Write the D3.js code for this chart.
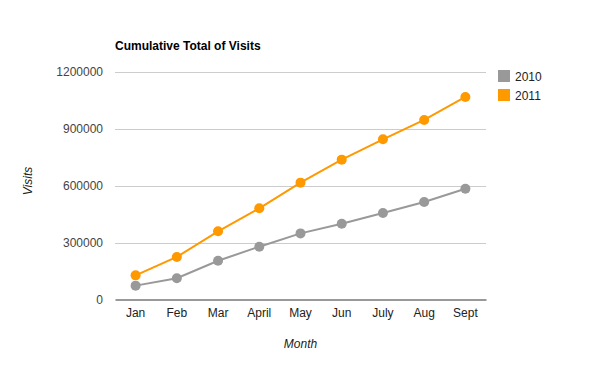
<!DOCTYPE html>
<html>
<head>
<meta charset="utf-8">
<script src="https://cdn.jsdelivr.net/npm/d3@7"></script>
<style>
  body { margin: 0; background: #fff; }
  svg { font-family: "Liberation Sans", Arial, sans-serif; }
</style>
</head>
<body>
<div class="chart"></div>
<script>
var months = ['Jan', 'Feb', 'Mar', 'April', 'May', 'Jun', 'July', 'Aug', 'Sept'];
var visits2010 = [73000, 112000, 204000, 278000, 348000, 399000, 455000, 513000, 583000];
var visits2011 = [127000, 224000, 359000, 480000, 615000, 736000, 843000, 945000, 1066000];
var yTicks = [0, 300000, 600000, 900000, 1200000];

var seriesList = [
  {name: '2010', values: visits2010, color: '#999999'},
  {name: '2011', values: visits2011, color: '#ff9900'}
];

var chartOptions = {
  width: 600,
  height: 371,
  left: 115,
  right: 486,
  top: 71.5,
  bottom: 299.5
}

var svg = d3.select('.chart').append('svg')
            .attr('width', chartOptions.width)
            .attr('height', chartOptions.height);

var x = d3.scaleBand()
          .domain(months)
          .range([chartOptions.left, chartOptions.right]);

var y = d3.scaleLinear()
          .domain([0, 1200000])
          .range([chartOptions.bottom, chartOptions.top]);

//gridlines
svg.append('g')
   .selectAll('line')
   .data(yTicks.slice(1))
   .enter()
   .append('line')
     .attr('x1', chartOptions.left)
     .attr('x2', chartOptions.right)
     .attr('y1', function(d){ return Math.round(y(d)) + 0.5; })
     .attr('y2', function(d){ return Math.round(y(d)) + 0.5; })
     .attr('stroke', '#cccccc');

//y tick labels
svg.append('g')
   .selectAll('text')
   .data(yTicks)
   .enter()
   .append('text')
     .attr('x', chartOptions.left - 12)
     .attr('y', function(d){ return y(d) + 4; })
     .attr('text-anchor', 'end')
     .attr('font-size', 12)
     .attr('fill', '#444')
     .text(function(d){ return d; });

//x axis
var xAxis = svg.append('g')
   .attr('transform', 'translate(0,' + chartOptions.bottom + ')')
   .call(d3.axisBottom(x).tickSize(0).tickPadding(9));
xAxis.select('.domain').attr('stroke', '#333').attr('stroke-width', 1);
xAxis.selectAll('text')
     .attr('font-size', 12)
     .attr('fill', '#222')
     .attr('font-family', '"Liberation Sans", Arial, sans-serif');

var line = d3.line()
             .x(function(d, i){ return x(months[i]) + x.bandwidth() / 2; })
             .y(function(d){ return y(d); });

var groups = svg.selectAll('.series')
                .data(seriesList)
                .enter()
                .append('g')
                  .attr('class', 'series');

groups.append('path')
      .attr('d', function(s){ return line(s.values); })
      .attr('fill', 'none')
      .attr('stroke', function(s){ return s.color; })
      .attr('stroke-width', 2);

groups.selectAll('circle')
      .data(function(s){ return s.values.map(function(v, i){ return {v: v, i: i, color: s.color}; }); })
      .enter()
      .append('circle')
        .attr('cx', function(d){ return x(months[d.i]) + x.bandwidth() / 2; })
        .attr('cy', function(d){ return y(d.v); })
        .attr('r', 5)
        .attr('fill', function(d){ return d.color; });

//title
svg.append('text')
   .attr('x', 115)
   .attr('y', 50)
   .attr('font-size', 12)
   .attr('font-weight', 'bold')
   .attr('fill', '#000')
   .text('Cumulative Total of Visits');

//axis titles
svg.append('text')
   .attr('x', (chartOptions.left + chartOptions.right) / 2)
   .attr('y', 348)
   .attr('text-anchor', 'middle')
   .attr('font-size', 12)
   .attr('font-style', 'italic')
   .attr('fill', '#222')
   .text('Month');

svg.append('text')
   .attr('transform', 'translate(32,181) rotate(-90)')
   .attr('text-anchor', 'middle')
   .attr('font-size', 12)
   .attr('font-style', 'italic')
   .attr('fill', '#222')
   .text('Visits');

//legend
var legend = svg.selectAll('.legend')
                .data(seriesList)
                .enter()
                .append('g')
                  .attr('class', 'legend')
                  .attr('transform', function(s, i){ return 'translate(498,' + (70 + i * 19) + ')'; });

legend.append('rect')
      .attr('width', 12)
      .attr('height', 12)
      .attr('fill', function(s){ return s.color; });

legend.append('text')
      .attr('x', 17)
      .attr('y', 10.5)
      .attr('font-size', 12)
      .attr('fill', '#222')
      .text(function(s){ return s.name; });
</script>
</body>
</html>
